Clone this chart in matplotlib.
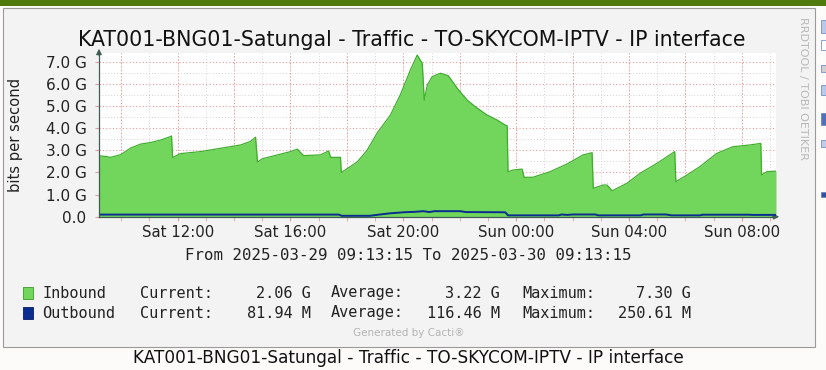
import matplotlib
matplotlib.use("Agg")
import matplotlib.pyplot as plt
from matplotlib.patches import Rectangle
import numpy as np

# hours after 2025-03-29 09:13:15
inbound_hours = [0.0, 0.24, 0.41, 0.77, 1.12, 1.48, 1.83, 2.18, 2.54, 2.57, 2.61, 2.89,
                 3.60, 4.31, 5.02, 5.37, 5.55, 5.62, 5.79, 6.08, 6.79, 7.03, 7.25, 7.85,
                 8.14, 8.21, 8.56, 8.59, 8.73, 9.16, 9.51, 9.86, 10.33, 10.68, 11.04,
                 11.28, 11.46, 11.53, 11.64, 11.81, 12.10, 12.38, 12.70, 13.05, 13.41,
                 13.76, 14.11, 14.40, 14.47, 14.50, 14.68, 15.00, 15.07, 15.38, 15.99,
                 16.59, 17.16, 17.48, 17.52, 17.87, 18.01, 18.19, 18.72, 19.18, 19.78,
                 20.41, 20.45, 20.84, 21.30, 21.90, 22.47, 23.07, 23.46, 23.49, 23.67, 24.0]
inbound_gbps = [2.75, 2.72, 2.68, 2.80, 3.10, 3.28, 3.35, 3.46, 3.62, 3.65, 2.67, 2.85,
                2.94, 3.09, 3.24, 3.40, 3.59, 2.46, 2.62, 2.71, 2.94, 3.05, 2.76, 2.79,
                2.97, 2.68, 2.68, 1.99, 2.11, 2.48, 3.01, 3.78, 4.59, 5.50, 6.63,
                7.30, 6.93, 5.27, 5.95, 6.32, 6.48, 6.37, 5.80, 5.27, 4.90,
                4.59, 4.37, 4.14, 4.10, 2.03, 2.11, 2.15, 1.78, 1.78, 2.03,
                2.38, 2.79, 2.89, 1.28, 1.43, 1.43, 1.17, 1.51, 1.96, 2.41,
                2.94, 1.58, 1.88, 2.26, 2.86, 3.16, 3.24, 3.31, 1.88, 2.03, 2.06]

outbound_hours = [0.0, 8.5, 8.6, 9.6, 9.9, 10.3, 10.8, 11.2, 11.5, 11.7, 11.9, 12.8, 13.0,
                  14.4, 14.5, 16.3, 16.4, 16.6, 16.8, 17.6, 17.7, 19.2, 19.3, 20.1, 20.3,
                  21.3, 21.4, 23.0, 23.2, 24.0]
outbound_mbps = [95, 95, 40, 40, 90, 150, 200, 220, 250, 210, 250, 250, 210,
                 200, 60, 60, 100, 80, 100, 100, 60, 60, 100, 100, 60,
                 60, 90, 90, 80, 82]

tick_labels = ["Sat 12:00", "Sat 16:00", "Sat 20:00", "Sun 00:00", "Sun 04:00", "Sun 08:00"]
first_full_hour = 0.7875  # 10:00

title = "KAT001-BNG01-Satungal - Traffic - TO-SKYCOM-IPTV - IP interface"

W, H = 826, 370
fig = plt.figure(figsize=(W / 100, H / 100), dpi=100)
fig.patch.set_facecolor("#fdfafa")


def px(x, y):
    return x / W, 1 - y / H


def box(x0, y0, x1, y1, **kw):
    fig.patches.append(Rectangle(px(x0, y1), (x1 - x0) / W, (y1 - y0) / H,
                                 transform=fig.transFigure, zorder=-5, **kw))


# page decoration
box(0, 0, W, 6, facecolor="#4e7a0e", edgecolor="none")
box(3, 8, 815, 347, facecolor="#f3f3f3", edgecolor="#9a9a9a", linewidth=0.8)
for y0, y1, c in [(20, 33, "#b8c8e8"), (40, 50, "#ffffff"), (65, 72, "#d0d0d0"),
                  (85, 95, "#b8c8e8"), (113, 125, "#5070b8"), (140, 147, "#c0cce8"),
                  (192, 197, "#3050a0")]:
    box(821, y0, 827, y1, facecolor=c, edgecolor="#6080c0", linewidth=0.5)

# plot area: x 99..776, y 0G at 216.7, 22.14 px per G
ymax = 7.4
top = 216.7 - ymax * 22.14
ax = fig.add_axes([99 / W, 1 - 216.7 / H, 677 / W, (216.7 - top) / H])
ax.set_facecolor("#ffffff")

x_in = np.array(inbound_hours)
y_in = np.array(inbound_gbps)
ax.fill_between(x_in, 0, y_in, color="#72d55c", linewidth=0, zorder=2)
ax.plot(x_in, y_in, color="#3fae2c", linewidth=0.9, zorder=3)
ax.plot(outbound_hours, np.array(outbound_mbps) / 1000.0, color="#0a2d8f",
        linewidth=1.4, zorder=4)

ax.set_xlim(0, 24)
ax.set_ylim(0, ymax)

hours_minor = np.arange(first_full_hour, 24, 1.0)
hours_major = np.arange(first_full_hour, 24, 2.0)
hours_label = np.arange(first_full_hour + 2, 24, 4.0)
dots = (0, (1, 2))
for h in hours_minor:
    ax.axvline(h, color="#d4d4d4", linestyle=dots, linewidth=0.7, zorder=1)
for h in hours_major:
    ax.axvline(h, color="#ee9a9a", linestyle=dots, linewidth=0.8, zorder=1)
for g in np.arange(0.5, ymax, 1.0):
    ax.axhline(g, color="#d4d4d4", linestyle=dots, linewidth=0.7, zorder=1)
for g in np.arange(1.0, ymax, 1.0):
    ax.axhline(g, color="#ee9a9a", linestyle=dots, linewidth=0.8, zorder=1)

ax.set_xticks(hours_label)
ax.set_xticklabels(tick_labels, fontsize=10.7, color="#222222")
ax.set_xticks(hours_minor, minor=True)
ax.set_yticks(np.arange(0, 8, 1.0))
ax.set_yticklabels(["0.0"] + [f"{v:.1f} G" for v in range(1, 8)], fontsize=11, color="#222222")
ax.tick_params(axis="x", which="both", length=3, color="#e0a0a0", pad=3)
ax.tick_params(axis="y", which="both", length=3, color="#e0a0a0", pad=6)

for side in ["top", "right"]:
    ax.spines[side].set_visible(False)
for side in ["left", "bottom"]:
    ax.spines[side].set_color("#3d5d55")
    ax.spines[side].set_linewidth(0.9)
    ax.spines[side].set_zorder(5)

# axis arrows
ax.annotate("", xy=(782 / W, 1 - 216.7 / H), xytext=(770 / W, 1 - 216.7 / H),
            xycoords="figure fraction",
            arrowprops=dict(arrowstyle="-|>", color="#3d5d55", lw=0.9, mutation_scale=8))
ax.annotate("", xy=(99 / W, 1 - 46 / H), xytext=(99 / W, 1 - 58 / H),
            xycoords="figure fraction",
            arrowprops=dict(arrowstyle="-|>", color="#3d5d55", lw=0.9, mutation_scale=8))

fig.text(*px(412, 40), title, fontsize=14.8, ha="center", va="center", color="#111111")
fig.text(*px(16, 135), "bits per second", fontsize=10.6, rotation=90, ha="center", va="center",
         color="#222222")
fig.text(*px(803, 88), "RRDTOOL / TOBI OETIKER", fontsize=8, rotation=270, ha="center",
         va="center", color="#b8b8b8")
fig.text(*px(408, 256), "From 2025-03-29 09:13:15 To 2025-03-30 09:13:15",
         family="DejaVu Sans Mono", fontsize=11.3, ha="center", va="center", color="#222222")

mono = dict(family="DejaVu Sans Mono", fontsize=11, va="center", color="#222222")
rows = [("Inbound", "#72d55c", "#3a9a2a", "2.06 G", "3.22 G", "7.30 G", 293),
        ("Outbound", "#0a2d8f", "#061d60", "81.94 M", "116.46 M", "250.61 M", 313)]
for name, face, edge, cur, avg, mx, y in rows:
    box(23, y - 6, 33, y + 6, facecolor=face, edgecolor=edge, linewidth=0.6)
    fig.text(*px(42, y), name, ha="left", **mono)
    fig.text(*px(140, y), "Current:", ha="left", **mono)
    fig.text(*px(311, y), cur, ha="right", **mono)
    fig.text(*px(331, y), "Average:", ha="left", **mono)
    fig.text(*px(500, y), avg, ha="right", **mono)
    fig.text(*px(522, y), "Maximum:", ha="left", **mono)
    fig.text(*px(691, y), mx, ha="right", **mono)

fig.text(*px(409, 333), "Generated by Cacti®", fontsize=7.5, ha="center", va="center",
         color="#b4b4b4")
fig.text(*px(408, 358), title, fontsize=12.2, ha="center", va="center", color="#111111")

fig.savefig("out.png", dpi=100, facecolor=fig.get_facecolor())
